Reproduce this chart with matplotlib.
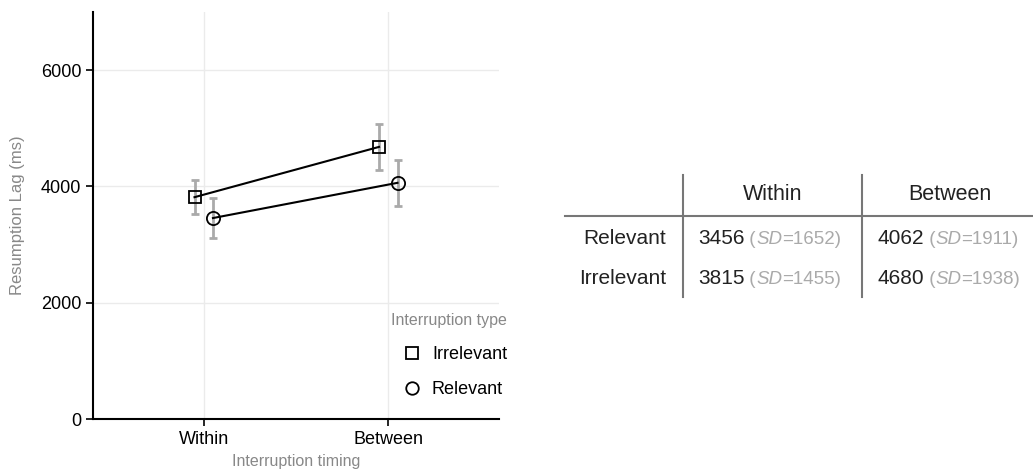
import numpy as np
import matplotlib.pyplot as plt
from matplotlib.lines import Line2D

plt.rcParams['font.family'] = ['Liberation Sans', 'DejaVu Sans']

timing = ['Within', 'Between']
mean_irrelevant = [3815, 4680]
mean_relevant = [3456, 4062]
sd_irrelevant = [1455, 1938]
sd_relevant = [1652, 1911]
n_participants = 24

W, H = 1033, 470
fig = plt.figure(figsize=(W / 100, H / 100), dpi=100)
ax = fig.add_axes([93 / W, 1 - 419 / H, 406 / W, 407 / H])

x = np.arange(len(timing))
dodge = 0.05
series = [
    ('Irrelevant', 's', -dodge, mean_irrelevant, sd_irrelevant, 8.5),
    ('Relevant', 'o', dodge, mean_relevant, sd_relevant, 9.5),
]
handles = []
for name, marker, off, means, sds, ms in series:
    se = np.array(sds) / np.sqrt(n_participants)
    ax.errorbar(x + off, means, yerr=se, fmt='none', ecolor='#aaaaaa',
                elinewidth=2, capsize=3, capthick=2, zorder=2)
    ax.plot(x + off, means, color='black', lw=1.5, marker=marker, ms=ms,
            mfc='none', mec='black', mew=1.3, zorder=3)
    handles.append(Line2D([], [], ls='none', marker=marker, ms=ms - 0.5,
                          mfc='none', mec='black', mew=1.3, label=name))

ax.set_xlim(-0.6, 1.6)
ax.set_ylim(0, 7000)
ax.set_xticks(x)
ax.set_xticklabels(timing)
ax.set_yticks([0, 2000, 4000, 6000])
ax.grid(True, color='#ebebeb', lw=1)
ax.set_axisbelow(True)
for side in ('top', 'right'):
    ax.spines[side].set_visible(False)
for side in ('left', 'bottom'):
    ax.spines[side].set_linewidth(1.5)
ax.tick_params(length=5, width=1.2, labelsize=13, colors='black')

ax.set_ylabel('Resumption Lag (ms)', fontsize=12, color='#888888')
ax.yaxis.set_label_coords(-0.167, 0.5)
ax.set_xlabel('Interruption timing', fontsize=11.5, color='#888888')
ax.xaxis.set_label_coords(0.5, -0.085)

# legend title drawn separately so the gap to the entries can be set freely
fig.text(507 / W, 1 - 320 / H, 'Interruption type', ha='right', va='center',
         fontsize=11.5, color='#888888')
fig.legend(handles=handles, loc='upper right',
           bbox_to_anchor=(507 / W, 1 - 346 / H), frameon=False,
           fontsize=13, borderpad=0, borderaxespad=0, handlelength=1.0,
           handletextpad=0.6, labelspacing=1.0)

# summary table on the right, in pixel coordinates
tab = fig.add_axes([0, 0, 1, 1], zorder=-1)
tab.set_xlim(0, W)
tab.set_ylim(H, 0)
tab.axis('off')

tab.plot([565, W], [216, 216], color='#777777', lw=1.5)
for xv in (683, 862):
    tab.plot([xv, xv], [175, 297], color='#777777', lw=1.5)

col_center = [773, 950]
col_left = [698, 877]
for label, xc in zip(timing, col_center):
    tab.text(xc, 195, label, ha='center', va='center', fontsize=15.5, color='#222222')

rows = [('Relevant', mean_relevant, sd_relevant, 238),
        ('Irrelevant', mean_irrelevant, sd_irrelevant, 278)]
for label, means, sds, yr in rows:
    tab.text(666, yr, label, ha='right', va='center', fontsize=15, color='#222222')
    for m, s, xl in zip(means, sds, col_left):
        t = tab.text(xl, yr, f'{m}', ha='left', va='center', fontsize=15, color='#222222')
        pieces = [(' (', 'normal'), ('SD', 'italic'), (f'={s})', 'normal')]
        for txt, style in pieces:
            t = tab.annotate(txt, xy=(1, 0), xycoords=t, va='bottom', ha='left',
                             fontsize=13.5, fontstyle=style, color='#aaaaaa')

fig.savefig('out.png', dpi=100)
